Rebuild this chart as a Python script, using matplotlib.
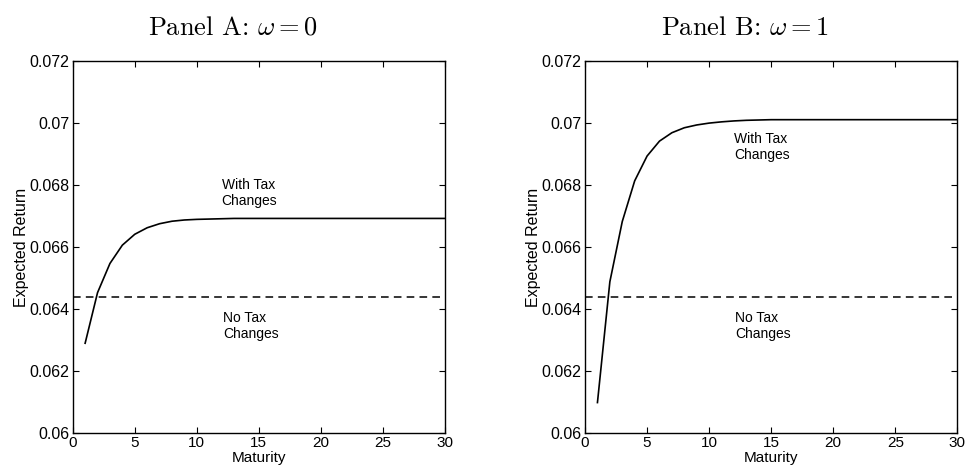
import matplotlib
matplotlib.use("Agg")
import matplotlib.pyplot as plt

plt.rcParams['font.family'] = ['Liberation Sans', 'DejaVu Sans']
plt.rcParams['mathtext.fontset'] = 'cm'

maturity = [1, 2, 3, 4, 5, 6, 7, 8, 9, 10, 11, 12, 13, 14, 15, 16, 17, 18, 19, 20,
            21, 22, 23, 24, 25, 26, 27, 28, 29, 30]
ret_a = [0.0629, 0.06453, 0.06547, 0.06606, 0.06641, 0.06662, 0.06675, 0.06683, 0.06687,
         0.06689, 0.06690, 0.06691, 0.06692, 0.06692, 0.06692, 0.06692, 0.06692, 0.06692,
         0.06692, 0.06692, 0.06692, 0.06692, 0.06692, 0.06692, 0.06692, 0.06692, 0.06692,
         0.06692, 0.06692, 0.06692]
ret_b = [0.06099, 0.06488, 0.06682, 0.06813, 0.06893, 0.06941, 0.06968, 0.06984, 0.06993,
         0.06999, 0.07003, 0.07006, 0.07008, 0.07009, 0.07010, 0.07010, 0.07010, 0.07010,
         0.07010, 0.07010, 0.07010, 0.07010, 0.07010, 0.07010, 0.07010, 0.07010, 0.07010,
         0.07010, 0.07010, 0.07010]
no_tax = 0.06438

titles = [r"Panel A: $\omega = 0$", r"Panel B: $\omega = 1$"]
yticks = [0.06, 0.062, 0.064, 0.066, 0.068, 0.07, 0.072]
yticklabels = ["0.06", "0.062", "0.064", "0.066", "0.068", "0.07", "0.072"]
xticks = [0, 5, 10, 15, 20, 25, 30]
with_label_y = [0.06774, 0.06923]
no_label_y = [0.06346, 0.06346]

fig = plt.figure(figsize=(9.67, 4.73), dpi=100)
lefts = [0.0752, 0.605]
title_x = [233 / 967, 745 / 967]
for i, (series, left) in enumerate(zip([ret_a, ret_b], lefts)):
    ax = fig.add_axes([left, 0.0839, 0.385, 0.7878])
    ax.plot(maturity, series, color='black', lw=1.2)
    ax.axhline(no_tax, color='black', lw=1.1, ls=(0, (5, 3.4)))
    ax.set_xlim(0, 30)
    ax.set_ylim(0.06, 0.072)
    ax.set_xticks(xticks)
    ax.set_xticklabels([str(t) for t in xticks])
    ax.set_yticks(yticks)
    ax.set_yticklabels(yticklabels)
    ax.tick_params(direction='in', top=True, right=True, labelsize=11.5, length=4, width=0.8)
    ax.tick_params(axis='y', pad=2.5)
    ax.tick_params(axis='x', pad=2, labelsize=11)
    for s in ax.spines.values():
        s.set_linewidth(1.0)
    ax.set_xlabel("Maturity", fontsize=11, labelpad=0.3)
    ax.set_ylabel("Expected Return", fontsize=11.5, labelpad=0)
    ax.text(12, with_label_y[i], "With Tax\nChanges", fontsize=10, ha='left', va='center',
            linespacing=1.15)
    ax.text(12.1, no_label_y[i], "No Tax\nChanges", fontsize=10, ha='left', va='center',
            linespacing=1.15)
    fig.text(title_x[i], 1 - 28 / 473, titles[i], fontsize=19, ha='center', va='center',
             family='cmr10')

fig.savefig("out.png", dpi=100)
